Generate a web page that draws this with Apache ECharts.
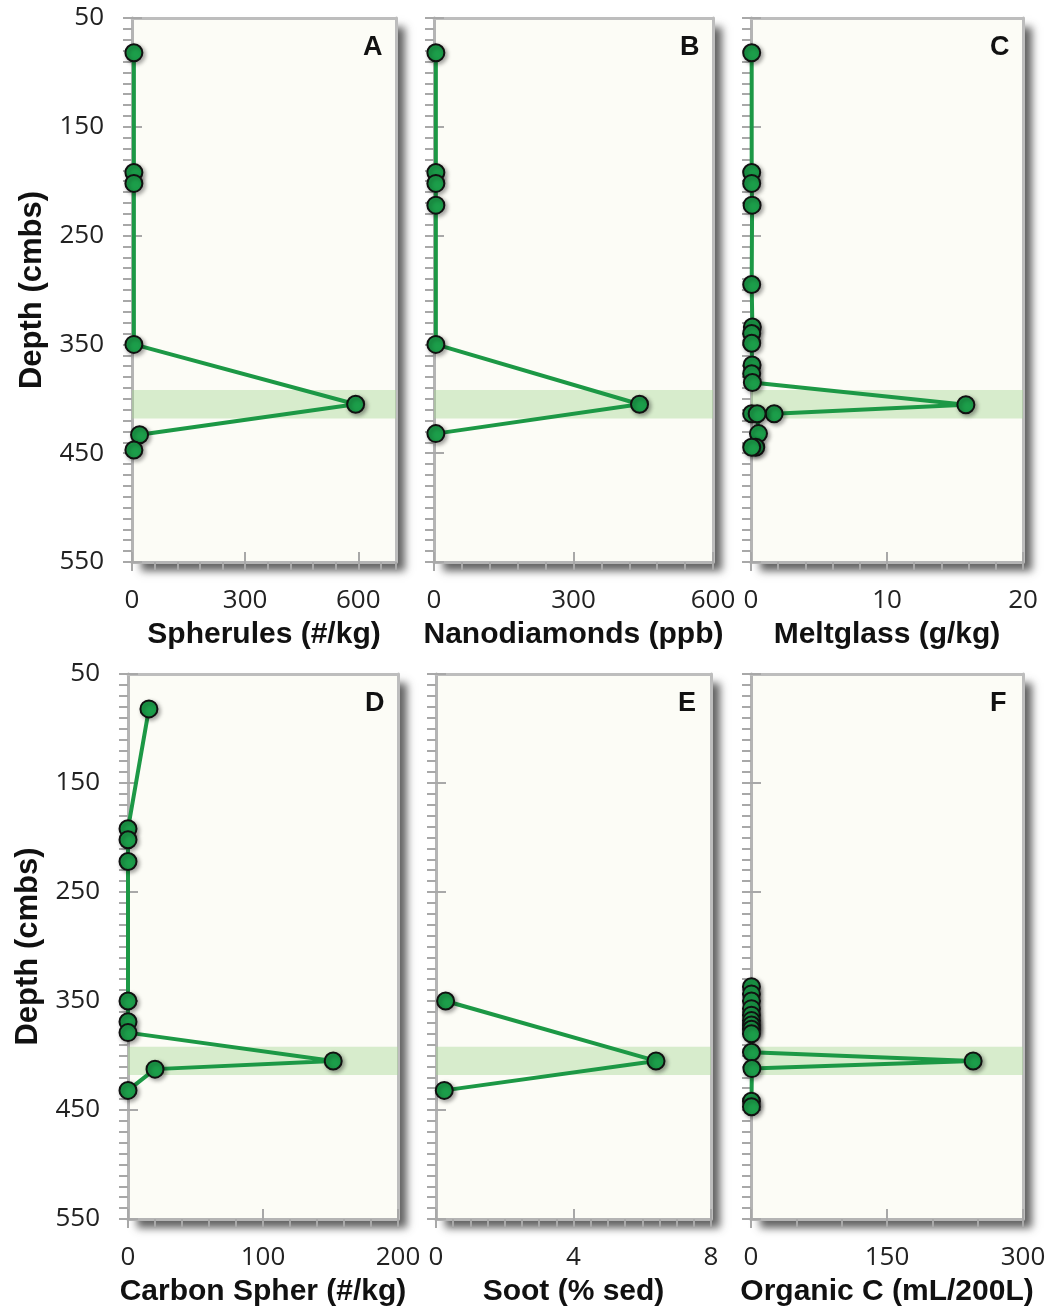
<!DOCTYPE html>
<html lang="en">
  <head>
    <meta charset="UTF-8" />
    <title>Depth profiles</title>
    <style>
      html, body { margin: 0; padding: 0; background: #fff; }
      #main { width: 1057px; height: 1312px; }
    </style>
  </head>
  <body>
    <div id="main"></div>
  </body>
  <script src="https://cdn.jsdelivr.net/npm/echarts@6/dist/echarts.min.js"></script>
  <script>
    /* globals echarts */

    // depth (cmbs) and measured value for each panel
    var depthA = [82, 192, 202, 350, 405, 433, 447];
    var spherules = [5, 5, 5, 5, 593, 20, 5];

    var depthB = [82, 192, 202, 222, 350, 405, 432];
    var nanodiamonds = [4, 4, 4, 4, 4, 442, 4];

    var depthC = [82, 192, 202, 222, 295, 334, 340, 349, 369, 377, 385, 405.5, 413.7, 413.7, 413.7, 432, 444.5, 444.5];
    var meltglass = [0.05, 0.05, 0.05, 0.08, 0.05, 0.1, 0.05, 0.05, 0.08, 0.05, 0.1, 15.8, 1.7, 0.05, 0.45, 0.55, 0.35, 0.05];

    var depthD = [82, 192, 202, 222, 350, 369, 379, 405, 412.5, 432];
    var carbonSpher = [15.5, 0, 0, 0, 0, 0, 0, 152, 20, 0];

    var depthE = [350, 405, 432];
    var soot = [0.28, 6.4, 0.24];

    var depthF = [337, 343.5, 350, 357, 363, 368, 372, 376, 380, 397, 405, 412, 442, 447];
    var organicC = [0.5, 0.5, 0.5, 0.5, 0.5, 0.5, 0.5, 0.5, 0.5, 0.5, 245, 1, 0.5, 0.5];

    // highlighted layer
    var bandTop = 392;
    var bandBottom = 418;

    // axis ticks
    var depthTicks = [50, 150, 250, 350, 450, 550];
    var ticksA = [0, 300, 600];
    var ticksB = [0, 300, 600];
    var ticksC = [0, 10, 20];
    var ticksD = [0, 100, 200];
    var ticksE = [0, 4, 8];
    var ticksF = [0, 150, 300];

    var panels = [
      { letter: "A", name: "Spherules (#/kg)", depth: depthA, values: spherules, max: 700, ticks: ticksA, minor: 60,
        left: 132, top: 18, width: 264, height: 544, yLabels: true },
      { letter: "B", name: "Nanodiamonds (ppb)", depth: depthB, values: nanodiamonds, max: 600, ticks: ticksB, minor: 60,
        left: 434, top: 18, width: 279, height: 544, yLabels: false },
      { letter: "C", name: "Meltglass (g/kg)", depth: depthC, values: meltglass, max: 20, ticks: ticksC, minor: 2,
        left: 751, top: 18, width: 272, height: 544, yLabels: false },
      { letter: "D", name: "Carbon Spher (#/kg)", depth: depthD, values: carbonSpher, max: 200, ticks: ticksD, minor: 20,
        left: 128, top: 674, width: 270, height: 545, yLabels: true },
      { letter: "E", name: "Soot (% sed)", depth: depthE, values: soot, max: 8, ticks: ticksE, minor: 0.5,
        left: 436, top: 674, width: 275, height: 545, yLabels: false },
      { letter: "F", name: "Organic C (mL/200L)", depth: depthF, values: organicC, max: 300, ticks: ticksF, minor: 50,
        left: 751, top: 674, width: 272, height: 545, yLabels: false }
    ];

    var axisGrey = "#b4b4b4";
    var tickGrey = "#a8a8a8";
    var labelFont = "'Open Sans', 'Liberation Sans', sans-serif";
    var titleFont = "'Liberation Sans', Arial, sans-serif";

    var chart = echarts.init(document.getElementById("main"), null, { renderer: "canvas" });

    var grids = [];
    var xAxes = [];
    var yAxes = [];
    var series = [];
    var graphics = [];

    // plain frame line for the top / right sides of a panel
    function frameAxis(i, position, min, max, inverse) {
      return {
        type: "value",
        gridIndex: i,
        position: position,
        min: min,
        max: max,
        inverse: !!inverse,
        axisLine: { show: true, onZero: false, lineStyle: { color: "#bdbdbd", width: 3 } },
        axisTick: { show: false },
        axisLabel: { show: false },
        splitLine: { show: false }
      };
    }

    panels.forEach(function(p, i) {
      grids.push({
        left: p.left,
        top: p.top,
        width: p.width,
        height: p.height,
        show: false,
        containLabel: false,
        outerBoundsMode: "none"
      });

      // cream plot background with drop shadow
      graphics.push({
        type: "rect",
        z: -10,
        silent: true,
        shape: { x: p.left, y: p.top, width: p.width, height: p.height },
        style: {
          fill: "#fcfcf6",
          shadowColor: "rgba(60,60,60,0.8)",
          shadowBlur: 8,
          shadowOffsetX: 9,
          shadowOffsetY: 9
        }
      });

      // major x axis (labels + inner ticks)
      xAxes.push({
        type: "value",
        gridIndex: i,
        position: "bottom",
        min: 0,
        max: p.max,
        axisLine: { show: true, onZero: false, lineStyle: { color: axisGrey, width: 3 } },
        axisTick: { show: true, inside: true, length: 10, customValues: p.ticks,
          lineStyle: { color: tickGrey, width: 2 } },
        axisLabel: { show: true, customValues: p.ticks, margin: 26, fontSize: 26,
          color: "#222", fontFamily: labelFont },
        splitLine: { show: false },
        name: p.name,
        nameLocation: "middle",
        nameGap: 58,
        nameTextStyle: { fontSize: 30, fontWeight: "bold", color: "#111", fontFamily: titleFont }
      });
      // minor x ticks (outside)
      xAxes.push({
        type: "value",
        gridIndex: i,
        position: "bottom",
        min: 0,
        max: p.max,
        interval: p.minor,
        axisLine: { show: false },
        axisTick: { show: true, inside: false, length: 9, lineStyle: { color: tickGrey, width: 2 } },
        axisLabel: { show: false },
        splitLine: { show: false }
      });
      xAxes.push(frameAxis(i, "top", 0, p.max));

      yAxes.push({
        type: "value",
        gridIndex: i,
        position: "left",
        inverse: true,
        min: 50,
        max: 550,
        axisLine: { show: true, onZero: false, lineStyle: { color: axisGrey, width: 3 } },
        axisTick: { show: true, inside: true, length: 10, customValues: depthTicks,
          lineStyle: { color: tickGrey, width: 2 } },
        axisLabel: { show: p.yLabels, customValues: depthTicks, margin: 28, fontSize: 26,
          color: "#222", fontFamily: labelFont },
        splitLine: { show: false },
        name: p.yLabels ? "Depth (cmbs)" : "",
        nameLocation: "middle",
        nameRotate: 90,
        nameGap: 84,
        nameTextStyle: { fontSize: 31, fontWeight: "bold", color: "#111", fontFamily: titleFont }
      });
      yAxes.push({
        type: "value",
        gridIndex: i,
        position: "left",
        inverse: true,
        min: 50,
        max: 550,
        interval: 10,
        axisLine: { show: false },
        axisTick: { show: true, inside: false, length: 9, lineStyle: { color: tickGrey, width: 2 } },
        axisLabel: { show: false },
        splitLine: { show: false }
      });
      yAxes.push(frameAxis(i, "right", 50, 550, true));

      series.push({
        type: "line",
        xAxisIndex: 3 * i,
        yAxisIndex: 3 * i,
        data: p.values.map(function(v, k) { return [v, p.depth[k]]; }),
        symbol: "circle",
        symbolSize: 17,
        lineStyle: { color: "#1c9845", width: 4 },
        itemStyle: {
          color: "#1c9e4a",
          borderColor: "#111",
          borderWidth: 2,
          shadowColor: "rgba(0,0,0,0.35)",
          shadowBlur: 4,
          shadowOffsetX: 2,
          shadowOffsetY: 2
        },
        markArea: {
          silent: true,
          itemStyle: { color: "rgba(165,215,145,0.42)" },
          data: [[{ yAxis: bandTop }, { yAxis: bandBottom }]]
        },
        z: 3
      });

      graphics.push({
        type: "text",
        left: p.left + p.width - 33,
        top: p.top + 16,
        style: { text: p.letter, fontSize: 27, fontWeight: "bold", fill: "#111", fontFamily: titleFont }
      });
    });

    chart.setOption({
      animation: false,
      backgroundColor: "#ffffff",
      grid: grids,
      xAxis: xAxes,
      yAxis: yAxes,
      series: series,
      graphic: graphics
    });
  </script>
</html>
